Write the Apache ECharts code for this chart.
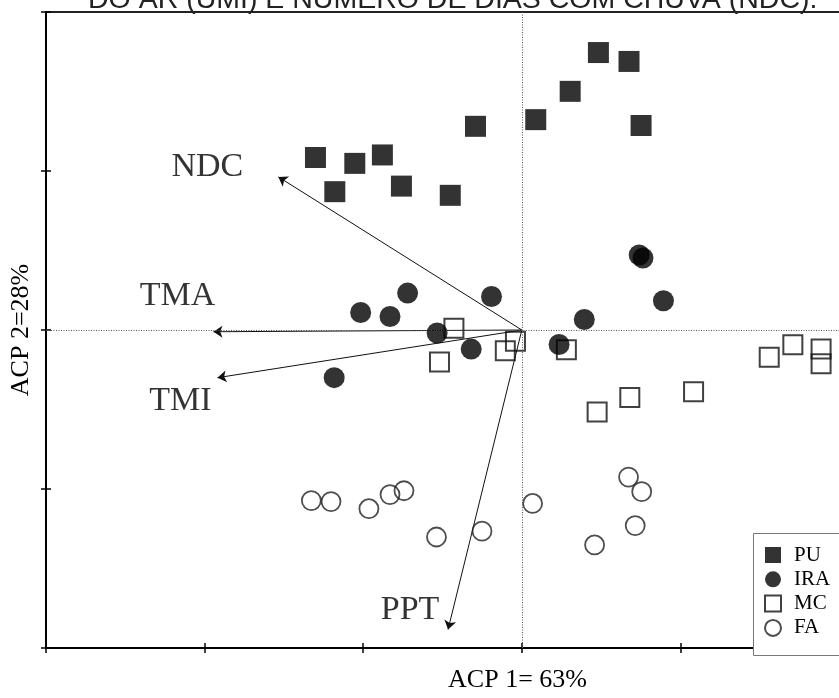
<!DOCTYPE html>
<html>
<head>
<meta charset="utf-8">
<script src="https://cdn.jsdelivr.net/npm/echarts@6/dist/echarts.min.js"></script>
<style>
  html, body { margin: 0; padding: 0; background: #fff; }
  #chart { width: 839px; height: 698px; }
</style>
</head>
<body>
<div id="chart"></div>
<script>
// PCA scores (ACP 1, ACP 2) for each site group
const puPoints = [
  [0.483, 1.745], [0.676, 1.689], [0.305, 1.501], [0.088, 1.323],
  [0.752, 1.286], [-0.292, 1.281], [-1.301, 1.085], [-1.053, 1.048],
  [-0.879, 1.101], [-1.179, 0.870], [-0.759, 0.905], [-0.451, 0.847]
];
const iraPoints = [
  [0.740, 0.472], [0.764, 0.453], [0.893, 0.184], [0.394, 0.066],
  [-0.191, 0.211], [-0.720, 0.232], [-1.016, 0.110], [-0.831, 0.085],
  [-0.534, -0.019], [-0.319, -0.120], [0.235, -0.091], [-1.183, -0.300]
];
const mcPoints = [
  [-0.428, 0.011], [-0.519, -0.201], [-0.104, -0.130], [-0.040, -0.070],
  [0.281, -0.124], [0.681, -0.424], [1.083, -0.389], [0.475, -0.516],
  [1.560, -0.172], [1.709, -0.093], [1.887, -0.120], [1.887, -0.213]
];
const faPoints = [
  [-1.327, -1.073], [-1.203, -1.079], [-0.964, -1.124], [-0.831, -1.035],
  [-0.743, -1.011], [-0.538, -1.302], [-0.251, -1.265], [0.068, -1.091],
  [0.673, -0.925], [0.756, -1.017], [0.715, -1.230], [0.459, -1.352]
];

// Variable loadings drawn as arrows from the origin
const vectorNames = ['NDC', 'TMA', 'TMI', 'PPT'];
const vectorTips = [[-1.535, 0.963], [-1.944, -0.011], [-1.919, -0.300], [-0.465, -1.884]];

const groupNames = ['PU', 'IRA', 'MC', 'FA'];
const titleText = 'DO AR (UMI) E NÚMERO DE DIAS COM CHUVA (NDC).';
const xName = 'ACP 1= 63%';
const yName = 'ACP 2=28%';

const serif = '"Liberation Serif", "Times New Roman", serif';
const sans = '"Liberation Sans", Arial, sans-serif';
const hollow = 'rgba(0,0,0,0)';
const labelOffsets = { NDC: [-71, -10], TMA: [-36, -36], TMI: [-37, 23], PPT: [-38, -19] };

const chart = echarts.init(document.getElementById('chart'), null, { renderer: 'canvas' });

const tickStyle = { color: '#000', width: 1.5 };
const xCommon = { type: 'value', min: -3, max: 2, interval: 1, axisLabel: { show: false }, splitLine: { show: false } };
const yCommon = { type: 'value', min: -2, max: 2, interval: 1, axisLabel: { show: false }, splitLine: { show: false } };

const option = {
  animation: false,
  backgroundColor: '#fff',
  title: {
    text: titleText,
    left: 83,
    top: -19,
    padding: 5,
    textStyle: { fontFamily: sans, fontSize: 28.5, fontWeight: 'normal', color: '#222' }
  },
  grid: { left: 43.75, right: -11, top: 12, bottom: 42 },
  legend: {
    data: groupNames,
    orient: 'vertical',
    left: 764,
    top: 544.5,
    padding: 0,
    itemWidth: 16,
    itemHeight: 16,
    itemGap: 3.3,
    z: 6,
    selectedMode: false,
    textStyle: { fontFamily: serif, fontSize: 21, color: '#000', lineHeight: 16, padding: [0, 0, 0, 8] }
  },
  graphic: [{
    type: 'rect',
    z: 5,
    shape: { x: 753.5, y: 533.5, width: 120, height: 122 },
    style: { fill: '#fff', stroke: '#777', lineWidth: 1 }
  }],
  xAxis: [
    Object.assign({}, xCommon, {
      position: 'bottom',
      axisLine: { onZero: false, lineStyle: { color: '#000', width: 2 } },
      axisTick: { length: 5, lineStyle: tickStyle },
      name: xName,
      nameLocation: 'middle',
      nameGap: 19,
      nameTextStyle: { fontFamily: serif, fontSize: 26, color: '#000', padding: [0, 0, 0, 150] }
    }),
    Object.assign({}, xCommon, {
      position: 'bottom',
      axisLine: { show: false, onZero: false },
      axisTick: { inside: true, length: 5, lineStyle: tickStyle }
    }),
    Object.assign({}, xCommon, {
      position: 'top',
      axisLine: { onZero: false, lineStyle: { color: '#222', width: 2 } },
      axisTick: { show: false }
    })
  ],
  yAxis: [
    Object.assign({}, yCommon, {
      position: 'left',
      axisLine: { onZero: false, lineStyle: { color: '#000', width: 2 } },
      axisTick: { length: 5, lineStyle: tickStyle },
      name: yName,
      nameLocation: 'middle',
      nameGap: 12,
      nameTextStyle: { fontFamily: serif, fontSize: 26, color: '#000' }
    }),
    Object.assign({}, yCommon, {
      position: 'left',
      axisLine: { show: false, onZero: false },
      axisTick: { inside: true, length: 5, lineStyle: tickStyle }
    })
  ],
  series: [
    {
      // variable labels at the arrow tips, plus the dotted zero lines
      type: 'scatter',
      silent: true,
      symbolSize: 1,
      z: 1,
      itemStyle: { color: hollow },
      data: vectorNames.map((n, i) => ({ name: n, value: vectorTips[i], label: { offset: labelOffsets[n] } })),
      label: { show: true, position: 'inside', formatter: '{b}', fontFamily: serif, fontSize: 34, color: '#000' },
      emphasis: { disabled: true },
      markLine: {
        silent: true,
        symbol: ['none', 'none'],
        label: { show: false },
        lineStyle: { type: [1, 1.5], color: '#555', width: 1 },
        data: [{ xAxis: 0 }, { yAxis: 0 }]
      }
    },
    {
      type: 'lines',
      coordinateSystem: 'cartesian2d',
      silent: true,
      z: 2,
      symbol: ['none', 'arrow'],
      symbolSize: [0, 9],
      lineStyle: { color: '#111', width: 1, opacity: 1 },
      data: vectorNames.map((n, i) => ({ name: n, coords: [[0, 0], vectorTips[i]] }))
    },
    {
      name: 'MC', type: 'scatter', symbol: 'rect', symbolSize: 19, z: 3,
      itemStyle: { color: hollow, borderColor: '#111', borderWidth: 2 },
      emphasis: { disabled: true },
      data: mcPoints
    },
    {
      name: 'FA', type: 'scatter', symbol: 'circle', symbolSize: 19, z: 3,
      itemStyle: { color: hollow, borderColor: '#222', borderWidth: 1.8 },
      emphasis: { disabled: true },
      data: faPoints
    },
    {
      name: 'PU', type: 'scatter', symbol: 'rect', symbolSize: 21, z: 4,
      itemStyle: { color: '#000' },
      emphasis: { disabled: true },
      data: puPoints
    },
    {
      name: 'IRA', type: 'scatter', symbol: 'circle', symbolSize: 21, z: 4,
      itemStyle: { color: '#000' },
      emphasis: { disabled: true },
      data: iraPoints
    }
  ]
};

chart.setOption(option);
</script>
</body>
</html>
